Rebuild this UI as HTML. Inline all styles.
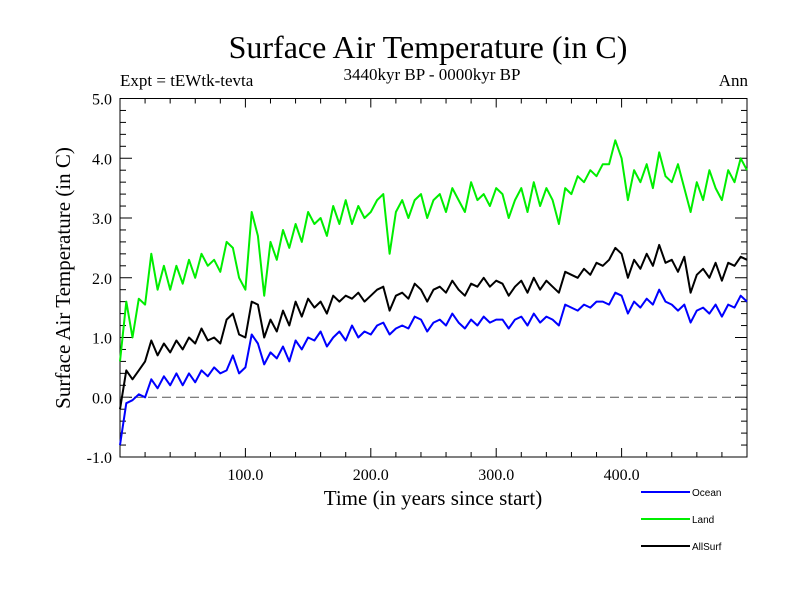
<!DOCTYPE html>
<html><head><meta charset="utf-8"><style>
body{margin:0;background:#fff}
svg{display:block;font-family:"Liberation Serif",serif}
</style></head><body>
<svg id="chart" width="800" height="600" viewBox="0 0 800 600" xmlns="http://www.w3.org/2000/svg">
<rect width="800" height="600" fill="#fff"/>
<text x="428" y="58" font-size="32" text-anchor="middle">Surface Air Temperature (in C)</text>
<text x="432" y="80" font-size="17" text-anchor="middle">3440kyr BP - 0000kyr BP</text>
<text x="120" y="86" font-size="17">Expt = tEWtk-tevta</text>
<text x="748" y="86" font-size="17" text-anchor="end">Ann</text>
<text x="433" y="505" font-size="21" text-anchor="middle">Time (in years since start)</text>
<text transform="translate(70,278) rotate(-90)" font-size="21" text-anchor="middle">Surface Air Temperature (in C)</text>
<g id="axes"></g>
<g id="series"></g>
<g id="legend" font-family="Liberation Sans, sans-serif" font-size="10"></g>
</svg>
<script>
const years=[];for(let i=0;i<=100;i++)years.push(i*5);
const ocean=[-0.8,-0.1,-0.05,0.05,0.0,0.3,0.15,0.35,0.2,0.4,0.2,0.4,0.25,0.45,0.35,0.5,0.4,0.45,0.7,0.4,0.5,1.05,0.9,0.55,0.75,0.65,0.85,0.6,0.95,0.8,1.0,0.95,1.1,0.85,1.0,1.1,0.95,1.2,1.0,1.1,1.05,1.2,1.25,1.05,1.15,1.2,1.15,1.35,1.3,1.1,1.25,1.3,1.2,1.4,1.25,1.15,1.3,1.2,1.35,1.25,1.3,1.3,1.15,1.3,1.35,1.2,1.4,1.25,1.35,1.3,1.2,1.55,1.5,1.45,1.55,1.5,1.6,1.6,1.55,1.75,1.7,1.4,1.6,1.5,1.65,1.55,1.8,1.6,1.55,1.45,1.55,1.25,1.45,1.5,1.4,1.55,1.35,1.55,1.5,1.7,1.6];
const allSurf=[-0.2,0.45,0.3,0.45,0.6,0.95,0.7,0.9,0.75,0.95,0.8,1.0,0.9,1.15,0.95,1.0,0.9,1.3,1.4,1.05,1.0,1.6,1.55,1.0,1.3,1.1,1.45,1.2,1.6,1.35,1.65,1.5,1.6,1.4,1.7,1.6,1.7,1.65,1.75,1.6,1.7,1.8,1.85,1.45,1.7,1.75,1.65,1.9,1.8,1.6,1.8,1.85,1.75,1.95,1.8,1.7,1.9,1.85,2.0,1.85,1.95,1.9,1.7,1.85,1.95,1.75,2.0,1.8,1.95,1.85,1.75,2.1,2.05,2.0,2.15,2.05,2.25,2.2,2.3,2.5,2.4,2.0,2.3,2.15,2.4,2.2,2.55,2.25,2.3,2.1,2.35,1.75,2.05,2.15,2.0,2.25,1.95,2.25,2.2,2.35,2.3];
const land=[0.6,1.6,1.0,1.65,1.55,2.4,1.8,2.2,1.8,2.2,1.9,2.3,2.0,2.4,2.2,2.3,2.1,2.6,2.5,2.0,1.8,3.1,2.7,1.7,2.6,2.3,2.8,2.5,2.9,2.6,3.1,2.9,3.0,2.7,3.2,2.9,3.3,2.9,3.2,3.0,3.1,3.3,3.4,2.4,3.1,3.3,3.0,3.3,3.4,3.0,3.3,3.4,3.1,3.5,3.3,3.1,3.6,3.3,3.4,3.2,3.5,3.4,3.0,3.3,3.5,3.1,3.6,3.2,3.5,3.3,2.9,3.5,3.4,3.7,3.6,3.8,3.7,3.9,3.9,4.3,4.0,3.3,3.8,3.6,3.9,3.5,4.1,3.7,3.6,3.9,3.5,3.1,3.6,3.3,3.8,3.5,3.3,3.8,3.6,4.0,3.8];
const xTickLabels=["100.0","200.0","300.0","400.0"];
const xTickValues=[100,200,300,400];
const yTickValues=[-1,0,1,2,3,4,5];
const yTickLabels=["-1.0","0.0","1.0","2.0","3.0","4.0","5.0"];
const seriesNames=["Ocean","Land","AllSurf"];

const X0=120,X1=747,Y0=457,Y1=98.5;
const xs=v=>X0+(v/500)*(X1-X0);
const ys=v=>Y0-((v+1)/6)*(Y0-Y1);
const NS="http://www.w3.org/2000/svg";
function mk(tag,attrs,parent){const e=document.createElementNS(NS,tag);for(const k in attrs)e.setAttribute(k,attrs[k]);parent.appendChild(e);return e;}
const axes=document.getElementById('axes');
const frame=mk('rect',{x:X0,y:Y1,width:X1-X0,height:Y0-Y1,fill:'none',stroke:'#000','stroke-width':1},axes);


// x ticks
for(let v=20;v<500;v+=20){const major=v%100===0;const L=major?9:5;
 mk('line',{x1:xs(v),x2:xs(v),y1:Y0,y2:Y0-L,stroke:'#000'},axes);
 mk('line',{x1:xs(v),x2:xs(v),y1:Y1,y2:Y1+L,stroke:'#000'},axes);}
xTickValues.forEach((v,i)=>{const t=mk('text',{x:xs(v),y:Y0+23,'font-size':16,'text-anchor':'middle'},axes);t.textContent=xTickLabels[i];
 
 });
// y ticks
for(let k=-5;k<=25;k++){const v=k/5;const major=k%5===0;const L=major?12:6;
 mk('line',{x1:X0,x2:X0+L,y1:ys(v),y2:ys(v),stroke:'#000'},axes);
 mk('line',{x1:X1,x2:X1-L,y1:ys(v),y2:ys(v),stroke:'#000'},axes);}
yTickValues.forEach((v,i)=>{const t=mk('text',{x:112,y:ys(v)+6,'font-size':16,'text-anchor':'end'},axes);t.textContent=yTickLabels[i];
 
 });
const zl=mk('line',{x1:X0,x2:X1,y1:ys(0),y2:ys(0),stroke:'#555','stroke-dasharray':'9,5'},axes);


// series
const sg=document.getElementById('series');
function draw(data,color,name){const d=data.map((v,i)=>(i?'L':'M')+xs(years[i]).toFixed(1)+','+ys(v).toFixed(1)).join('');
 const p=mk('path',{d:d,fill:'none',stroke:color,'stroke-width':2,'stroke-linejoin':'round'},sg);
 
 }
draw(ocean,'#0000ff','ocean-line');
draw(land,'#00ee00','land-line');
draw(allSurf,'#000000','allsurf-line');
// legend
const lg=document.getElementById('legend');
const colors=['#0000ff','#00ee00','#000000'];
seriesNames.forEach((n,i)=>{const y=492+i*27;
 const g=mk('g',{},lg);
 
 
 mk('line',{x1:641,x2:690,y1:y,y2:y,stroke:colors[i],'stroke-width':2},g);
 const t=mk('text',{x:692,y:y+4},g);t.textContent=n;});
</script>
</body></html>
